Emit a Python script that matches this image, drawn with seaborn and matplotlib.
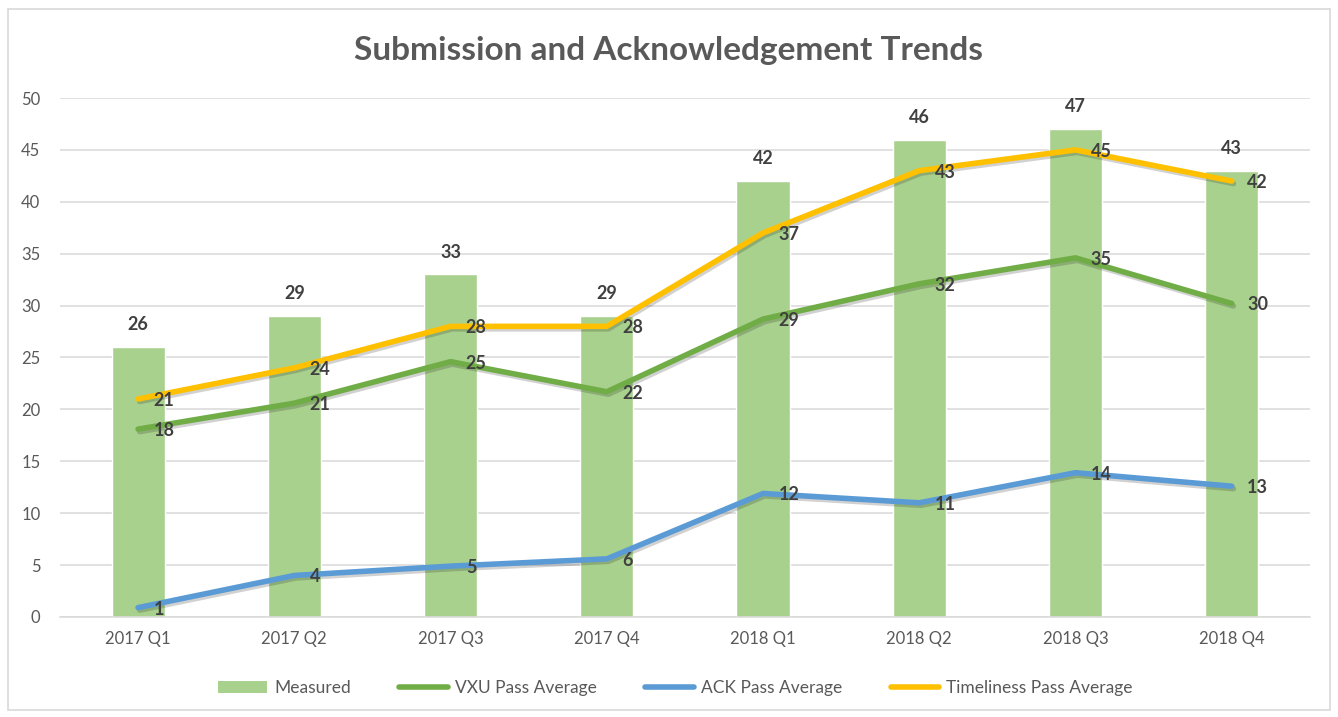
import numpy as np
import pandas as pd
import matplotlib
matplotlib.use("Agg")
import matplotlib.pyplot as plt
import matplotlib.patheffects as pe
from matplotlib.patches import Rectangle, Patch
from matplotlib.lines import Line2D
import seaborn as sns

# ---- data ----
quarters = ["2017 Q1", "2017 Q2", "2017 Q3", "2017 Q4", "2018 Q1", "2018 Q2", "2018 Q3", "2018 Q4"]
measured = [26, 29, 33, 29, 42, 46, 47, 43]
vxu_pass = [18.1, 20.6, 24.6, 21.7, 28.7, 32.1, 34.6, 30.2]
ack_pass = [0.9, 4.0, 4.9, 5.6, 11.9, 11.0, 13.9, 12.6]
timely_pass = [21.0, 24.0, 28.0, 28.0, 37.0, 43.0, 45.0, 42.0]

sns.set_theme(style="white")
plt.rcParams["font.family"] = ["Lato", "DejaVu Sans"]

TXT = "#595959"
LBL = "#404040"
C_BAR = "#A9D18E"
C_VXU = "#70AD47"
C_ACK = "#5B9BD5"
C_TIM = "#FFC000"

fig = plt.figure(figsize=(13.38, 7.17), dpi=100)
ax = fig.add_axes([0.0448, 0.1395, 0.9342, 0.7238])

pos = np.arange(len(quarters))
df = pd.DataFrame({"quarter": quarters, "pos": pos, "measured": measured,
                   "vxu": vxu_pass, "ack": ack_pass, "tim": timely_pass})

sns.barplot(data=df, x="quarter", y="measured", color=C_BAR, width=0.34,
            saturation=1, ax=ax, zorder=2)

for col, c in [("vxu", C_VXU), ("ack", C_ACK), ("tim", C_TIM)]:
    sns.lineplot(data=df, x="pos", y=col, color=c, lw=4, ax=ax, zorder=3,
                 path_effects=[pe.SimpleLineShadow(offset=(1.2, -1.8), alpha=0.2), pe.Normal()],
                 solid_capstyle="round", solid_joinstyle="round")

# labels
for i, v in enumerate(measured):
    ax.annotate(f"{v:.0f}", (i, v), xytext=(0, 16), textcoords="offset points",
                ha="center", va="center", fontsize=13, fontweight="bold", color=LBL, zorder=5)
for series in (vxu_pass, ack_pass, timely_pass):
    for i, v in enumerate(series):
        ax.annotate(f"{v:.0f}", (i, v), xytext=(11, -1), textcoords="offset points",
                    ha="left", va="center", fontsize=13, fontweight="bold", color=LBL, zorder=5)

ax.set_xlim(-0.5, 7.5)
ax.set_ylim(0, 50)
ax.set_yticks(np.arange(0, 51, 5))
ax.set_xticks(pos)
ax.set_xticklabels(quarters)
ax.set_xlabel("")
ax.set_ylabel("")
ax.grid(axis="y", color="#D9D9D9", lw=1.1, zorder=0)
ax.set_axisbelow(True)
for s in ["top", "right", "left"]:
    ax.spines[s].set_visible(False)
ax.spines["bottom"].set_color("#D9D9D9")
ax.spines["bottom"].set_linewidth(1.1)
ax.tick_params(axis="both", length=0, labelsize=12, colors=TXT, pad=10)
ax.tick_params(axis="y", pad=14)

fig.text(0.5, 0.93, "Submission and Acknowledgement Trends", ha="center", va="center",
         fontsize=24, fontweight="bold", color=TXT)

handles = [Patch(facecolor=C_BAR, edgecolor="none"),
           Line2D([], [], color=C_VXU, lw=4, solid_capstyle="round"),
           Line2D([], [], color=C_ACK, lw=4, solid_capstyle="round"),
           Line2D([], [], color=C_TIM, lw=4, solid_capstyle="round")]
labels = ["Measured", "VXU Pass Average", "ACK Pass Average", "Timeliness Pass Average"]
fig.legend(handles, labels, loc="center", bbox_to_anchor=(0.505, 0.04), ncol=4, frameon=False,
           fontsize=12.5, labelcolor=TXT, handlelength=2.8, handletextpad=0.4, columnspacing=2.8)

fig.add_artist(Rectangle((0.006, 0.01), 0.988, 0.978, transform=fig.transFigure,
                         fill=False, edgecolor="#D9D9D9", lw=1.2))

fig.savefig("out.png", dpi=100, facecolor="white")
